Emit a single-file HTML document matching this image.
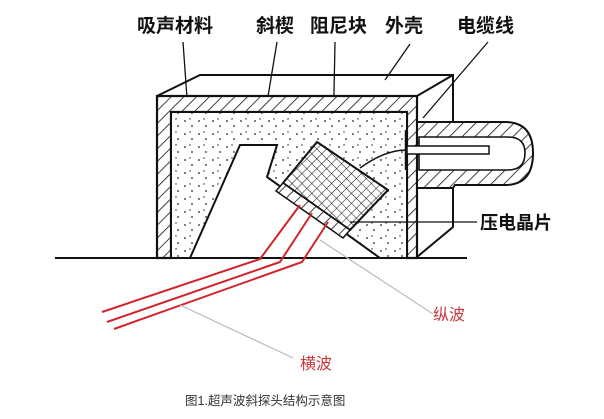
<!DOCTYPE html>
<html><head><meta charset="utf-8"><style>
html,body{margin:0;padding:0;background:#fff;width:604px;height:419px;overflow:hidden}
svg{display:block}
.lb{font-family:"Liberation Sans","Noto Sans CJK SC",sans-serif;font-weight:bold;font-size:19px;fill:#111}
</style></head><body>
<svg width="604" height="419" viewBox="0 0 604 419">
<defs>
<pattern id="hatch" width="9" height="9" patternUnits="userSpaceOnUse" patternTransform="rotate(45)">
<rect width="9" height="9" fill="#fff"/><line x1="0" y1="0" x2="0" y2="9" stroke="#111" stroke-width="1.6"/></pattern>
<pattern id="dots" width="14" height="13" patternUnits="userSpaceOnUse">
<rect width="14" height="13" fill="#fff"/><circle cx="3" cy="4" r="0.9" fill="#222"/><circle cx="10" cy="9" r="0.9" fill="#222"/><circle cx="8" cy="2" r="0.7" fill="#222"/></pattern>
<pattern id="mesh" width="7" height="7" patternUnits="userSpaceOnUse" patternTransform="rotate(45)">
<rect width="7" height="7" fill="#fff"/><path d="M0 0V7M0 0H7" stroke="#111" stroke-width="1"/></pattern>
</defs>
<text class="lb" x="137" y="32">吸声材料</text>
<text class="lb" x="256" y="32">斜楔</text>
<text class="lb" x="310" y="32">阻尼块</text>
<text class="lb" x="385" y="32">外壳</text>
<text class="lb" x="457" y="32">电缆线</text>
<g stroke="#111" stroke-width="1.3" fill="none">
<line x1="183" y1="42" x2="190" y2="140"/>
<line x1="277" y1="42" x2="255" y2="175"/>
<line x1="335" y1="42" x2="333" y2="143"/>
<line x1="410" y1="44" x2="385" y2="80"/>
<line x1="488" y1="42" x2="423" y2="118"/>
</g>
<line x1="55" y1="258" x2="467" y2="258" stroke="#111" stroke-width="2"/>
<path d="M157 96 L200 75 L453 75 L453 122 M417 96 L453 75 M417 257 L453 227 L453 188 L417 188" stroke="#111" stroke-width="2" fill="none"/>
<path d="M157 96 H417 V258 H407 V112 H171 V258 H157 Z" fill="url(#hatch)" stroke="#111" stroke-width="2.2"/>
<rect x="171" y="112" width="236" height="146" fill="url(#dots)" stroke="#111" stroke-width="2"/>
<path d="M417 122 H505 Q533 122 533 153 Q533 185 505 185 H455 L453 188 H417 Z" fill="url(#hatch)" stroke="#111" stroke-width="2"/>
<path d="M419 137 H508 Q525 137 525 153 Q525 170 508 170 H419 Z" fill="#fff" stroke="#111" stroke-width="1.6"/>
<rect x="407" y="146" width="82" height="8" fill="#fff" stroke="#111" stroke-width="1.5"/>
<line x1="406" y1="130" x2="406" y2="170" stroke="#111" stroke-width="2.5"/>
<path d="M360 168 Q385 150 406 150" stroke="#111" stroke-width="1.5" fill="none"/>
<path d="M190 258 L240 145 L277 145 L267 177 L380 258 Z" fill="#fff" stroke="#111" stroke-width="2"/>
<polygon points="317,142 388,190 350,230 283,183" fill="url(#mesh)" stroke="#111" stroke-width="2"/>
<polygon points="283,183 350,230 343,238 276,191" fill="url(#hatch)" stroke="#111" stroke-width="1.5"/>
<line x1="350" y1="222" x2="477" y2="222" stroke="#111" stroke-width="1.3"/>
<text class="lb" x="480" y="229" style="font-size:18px">压电晶片</text>
<g stroke="#d0252a" stroke-width="2" fill="none">
<polyline points="300,205 260,259 102,312"/>
<polyline points="312,213 280,262 107,322"/>
<polyline points="328,222 302,262 114,329"/>
</g>
<line x1="320" y1="240" x2="433" y2="314" stroke="#bbb" stroke-width="1.2"/>
<line x1="180" y1="305" x2="293" y2="358" stroke="#bbb" stroke-width="1.2"/>
<text x="433" y="320" font-family="Liberation Sans,'Noto Sans CJK SC',sans-serif" font-size="16" fill="#c8373c">纵波</text>
<text x="300" y="369" font-family="Liberation Sans,'Noto Sans CJK SC',sans-serif" font-size="16" fill="#c8373c">横波</text>
<text x="185" y="405" font-family="Liberation Sans,'Noto Sans CJK SC',sans-serif" font-size="12.5" fill="#333">图1.超声波斜探头结构示意图</text>
</svg>
</body></html>
